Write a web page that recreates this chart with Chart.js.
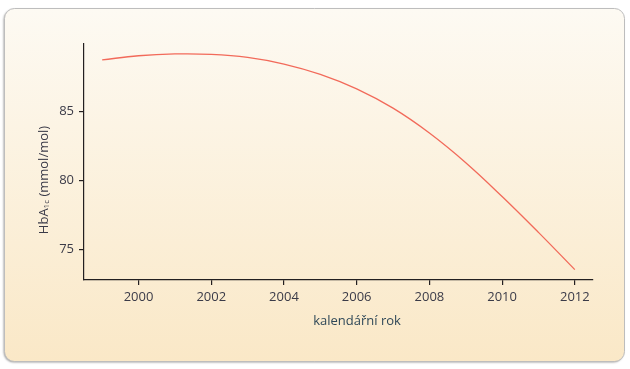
<!DOCTYPE html>
<html>
<head>
<meta charset="utf-8">
<script src="https://cdn.jsdelivr.net/npm/chart.js@4"></script>
<style>
    html, body { margin: 0; padding: 0; background: #ffffff; }
    #wrap { width: 630px; height: 369px; position: relative; }
</style>
</head>
<body>
<div id="wrap"><canvas id="chart" width="630" height="369"></canvas></div>
<script>
// values
const years = [1999, 2000, 2001, 2002, 2003, 2004, 2005, 2006, 2007, 2008, 2009, 2010, 2011, 2012];
const hba1c = [88.75, 89.05, 89.18, 89.15, 88.93, 88.45, 87.7, 86.65, 85.25, 83.45, 81.3, 78.85, 76.25, 73.55];
const xTicks = [2000, 2002, 2004, 2006, 2008, 2010, 2012];
const yTicks = [75, 80, 85];

const textColor = '#3b3b48';
const titleColor = '#2f4858';
const axisColor = '#231f20';

// rounded panel with the beige gradient behind the chart
const panelPlugin = {
    id: 'panel',
    beforeDraw(chart) {
        const ctx = chart.ctx;
        const x = 4.5, y = 8.5, w = 620, h = 353, r = 10;
        ctx.save();
        ctx.beginPath();
        ctx.roundRect(x, y, w, h, r);
        const grad = ctx.createLinearGradient(0, y, 0, y + h);
        grad.addColorStop(0, '#fdfaf3');
        grad.addColorStop(1, '#fae8c7');
        ctx.shadowColor = 'rgba(0,0,0,0.35)';
        ctx.shadowBlur = 2;
        ctx.shadowOffsetX = -1;
        ctx.shadowOffsetY = 1;
        ctx.fillStyle = grad;
        ctx.fill();
        ctx.shadowColor = 'transparent';
        ctx.strokeStyle = '#bdbdbd';
        ctx.lineWidth = 1;
        ctx.stroke();
        ctx.restore();
    }
};

// axis titles; the y one needs the subscript "1c"
const titlesPlugin = {
    id: 'titles',
    afterDraw(chart) {
        const ctx = chart.ctx;
        const big = '13px "Open Sans"';
        const small = '8px "Open Sans"';

        ctx.save();
        ctx.font = big;
        ctx.fillStyle = titleColor;
        ctx.textAlign = 'center';
        ctx.textBaseline = 'middle';
        ctx.fillText('kalendářní rok', 357, 321);
        ctx.restore();

        const parts = [['HbA', big, 0], ['1c', small, 3], [' (mmol/mol)', big, 0]];
        let total = 0;
        parts.forEach(p => { ctx.font = p[1]; total += ctx.measureText(p[0]).width; });
        ctx.save();
        ctx.translate(44, 180);
        ctx.rotate(-Math.PI / 2);
        ctx.fillStyle = textColor;
        ctx.textBaseline = 'middle';
        ctx.textAlign = 'left';
        let pos = -total / 2;
        parts.forEach(p => {
            ctx.font = p[1];
            ctx.fillText(p[0], pos, p[2]);
            pos += ctx.measureText(p[0]).width;
        });
        ctx.restore();
    }
};

new Chart(document.getElementById('chart'), {
    type: 'line',
    data: {
        datasets: [{
            data: years.map((yr, i) => ({ x: yr, y: hba1c[i] })),
            borderColor: '#f26a5a',
            borderWidth: 1.3,
            pointRadius: 0,
            tension: 0.4,
            fill: false
        }]
    },
    options: {
        responsive: false,
        animation: false,
        events: [],
        layout: { padding: { left: 0, right: 37, top: 44, bottom: 0 } },
        plugins: {
            legend: { display: false },
            tooltip: { enabled: false }
        },
        scales: {
            x: {
                type: 'linear',
                min: 1998.5,
                max: 2012.5,
                afterBuildTicks: scale => { scale.ticks = xTicks.map(v => ({ value: v })); },
                afterFit: scale => { scale.height = 89; },
                border: { color: axisColor, width: 1.2 },
                grid: { drawOnChartArea: false, drawTicks: true, tickLength: 5, color: axisColor, lineWidth: 1.2 },
                ticks: {
                    padding: 4,
                    maxRotation: 0,
                    color: textColor,
                    font: { family: 'Open Sans', size: 13 },
                    callback: v => String(v)
                }
            },
            y: {
                type: 'linear',
                min: 72.8,
                max: 89.9,
                afterBuildTicks: scale => { scale.ticks = yTicks.map(v => ({ value: v })); },
                afterFit: scale => { scale.width = 84; },
                border: { color: axisColor, width: 1.2 },
                grid: { drawOnChartArea: false, drawTicks: true, tickLength: 5, color: axisColor, lineWidth: 1.2 },
                ticks: {
                    padding: 5,
                    color: textColor,
                    font: { family: 'Open Sans', size: 13 }
                }
            }
        }
    },
    plugins: [panelPlugin, titlesPlugin]
});
</script>
</body>
</html>
